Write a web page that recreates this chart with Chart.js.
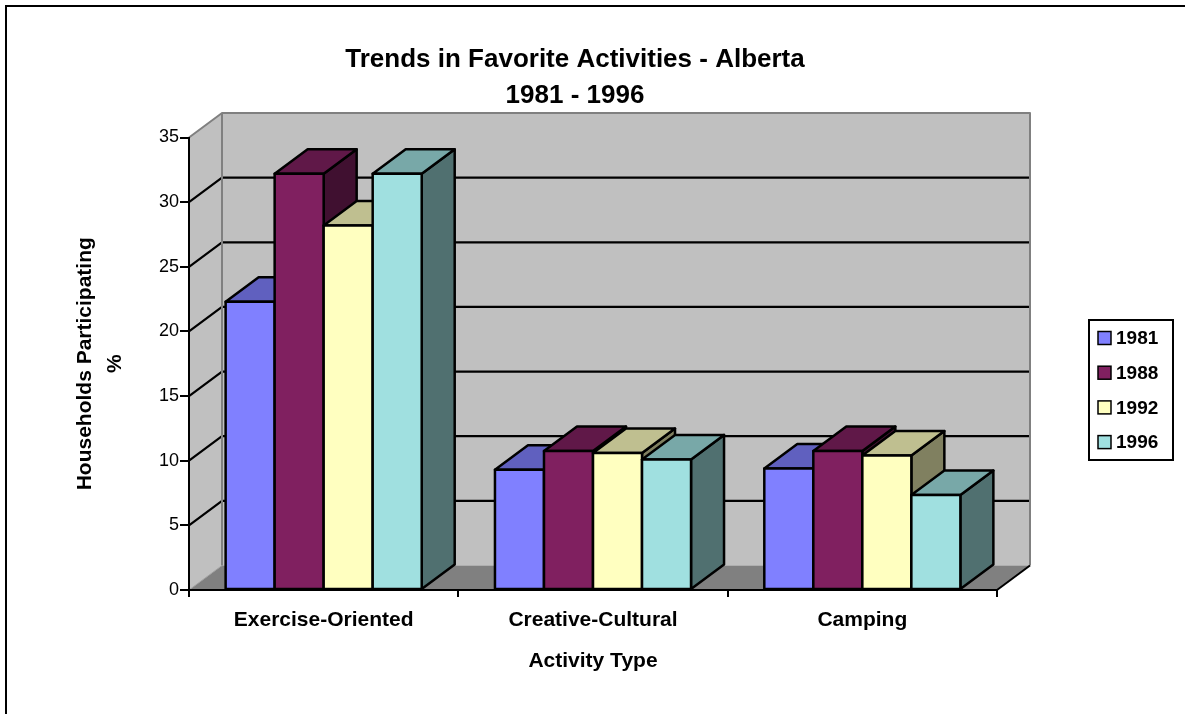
<!DOCTYPE html>
<html>
<head>
<meta charset="utf-8">
<title>Trends in Favorite Activities - Alberta</title>
<script src="https://cdn.jsdelivr.net/npm/chart.js@4.4.1/dist/chart.umd.min.js"></script>
<style>
  body { margin: 0; background: #fff; }
  canvas { display: block; }
</style>
</head>
<body>
<canvas id="myChart" width="1185" height="714"></canvas>
<script>
const titleLines = ['Trends in Favorite Activities - Alberta', '1981 - 1996'];
const categories = ['Exercise-Oriented', 'Creative-Cultural', 'Camping'];
const years = ['1981', '1988', '1992', '1996'];
const values1981 = [22.3, 9.3, 9.4];
const values1988 = [32.2, 10.75, 10.75];
const values1992 = [28.2, 10.6, 10.4];
const values1996 = [32.2, 10.1, 7.35];
const yMax = 35;
const yStep = 5;

const frontColors = ['#8080FF', '#802060', '#FFFFC0', '#A0E0E0'];

// depth of the 3d box (offset of the back plane)
const DX = 33, DY = -24.5;
const FONT = "'Liberation Sans', Arial, sans-serif";
Chart.defaults.font.family = FONT;

let shade = (hex, f) => {
  const n = parseInt(hex.slice(1), 16);
  const r = Math.round(((n >> 16) & 255) * f);
  const g = Math.round(((n >> 8) & 255) * f);
  const b = Math.round((n & 255) * f);
  return 'rgb(' + r + ',' + g + ',' + b + ')';
};

let poly = (ctx, pts, fill, stroke, lw) => {
  ctx.beginPath();
  ctx.moveTo(pts[0][0], pts[0][1]);
  for (let i = 1; i < pts.length; i++) ctx.lineTo(pts[i][0], pts[i][1]);
  ctx.closePath();
  if (fill) { ctx.fillStyle = fill; ctx.fill(); }
  if (stroke) { ctx.strokeStyle = stroke; ctx.lineWidth = lw; ctx.stroke(); }
};

let line = (ctx, pts, color, lw) => {
  ctx.beginPath();
  ctx.moveTo(pts[0][0], pts[0][1]);
  for (let i = 1; i < pts.length; i++) ctx.lineTo(pts[i][0], pts[i][1]);
  ctx.strokeStyle = color;
  ctx.lineWidth = lw;
  ctx.stroke();
};

const box3d = {
  id: 'box3d',
  afterLayout(chart) {
    // centre the title over the whole picture, not just left of the legend
    chart.titleBlock.left = 0;
    chart.titleBlock.right = 1150;
  },
  beforeDraw(chart) {
    const ctx = chart.ctx;
    const a = chart.chartArea;
    const y = chart.scales.y;
    ctx.save();
    ctx.lineJoin = 'round';
    // back wall
    poly(ctx, [[a.left + DX, a.top + DY], [a.right + DX, a.top + DY], [a.right + DX, a.bottom + DY], [a.left + DX, a.bottom + DY]], '#C0C0C0');
    // side wall
    poly(ctx, [[a.left, a.bottom], [a.left, a.top], [a.left + DX, a.top + DY], [a.left + DX, a.bottom + DY]], '#C0C0C0');
    // floor
    poly(ctx, [[a.left, a.bottom], [a.right, a.bottom], [a.right + DX, a.bottom + DY], [a.left + DX, a.bottom + DY]], '#808080');
    // grid lines, running over the side wall and across the back wall
    y.ticks.forEach(t => {
      if (t.value <= 0 || t.value >= yMax) return;
      const py = y.getPixelForValue(t.value);
      line(ctx, [[a.left, py], [a.left + DX, py + DY], [a.right + DX, py + DY]], '#000', 2.2);
    });
    // wall edges
    line(ctx, [[a.left, a.top], [a.left + DX, a.top + DY], [a.right + DX, a.top + DY], [a.right + DX, a.bottom + DY]], '#808080', 2);
    line(ctx, [[a.left + DX, a.top + DY], [a.left + DX, a.bottom + DY]], '#808080', 2);
    line(ctx, [[a.left, a.bottom], [a.left + DX, a.bottom + DY]], '#A0A0A0', 1);
    line(ctx, [[a.right, a.bottom], [a.right + DX, a.bottom + DY]], '#000', 2);
    ctx.restore();
  },
  afterDatasetsDraw(chart) {
    const ctx = chart.ctx;
    const metas = chart.getSortedVisibleDatasetMetas();
    ctx.save();
    ctx.lineJoin = 'round';
    for (let i = 0; i < categories.length; i++) {
      metas.forEach((meta, d) => {
        const bar = meta.data[i];
        const p = bar.getProps(['x', 'y', 'width', 'base'], true);
        const l = p.x - p.width / 2, r = p.x + p.width / 2;
        const c = frontColors[d];
        poly(ctx, [[r, p.y], [r + DX, p.y + DY], [r + DX, p.base + DY], [r, p.base]], shade(c, 0.5), '#000', 2.5);
        poly(ctx, [[l, p.y], [r, p.y], [r + DX, p.y + DY], [l + DX, p.y + DY]], shade(c, 0.75), '#000', 2.5);
        poly(ctx, [[l, p.y], [r, p.y], [r, p.base], [l, p.base]], c, '#000', 2.5);
      });
    }
    ctx.restore();
  },
  afterDraw(chart) {
    const ctx = chart.ctx;
    ctx.save();
    // legend
    ctx.lineWidth = 2;
    ctx.strokeStyle = '#000';
    ctx.strokeRect(1089, 320, 84, 140);
    ctx.font = 'bold 19px ' + FONT;
    ctx.textBaseline = 'middle';
    ctx.textAlign = 'left';
    chart.data.datasets.forEach((ds, i) => {
      const cy = 338 + i * 34.7;
      ctx.fillStyle = ds.backgroundColor;
      ctx.fillRect(1098, cy - 6.5, 13, 13);
      ctx.lineWidth = 1.5;
      ctx.strokeRect(1098, cy - 6.5, 13, 13);
      ctx.fillStyle = '#000';
      ctx.fillText(ds.label, 1116, cy + 1);
    });
    // outer frame
    ctx.lineWidth = 2;
    ctx.strokeRect(6, 6, 1400, 900);
    ctx.restore();
  }
};

const ctx = document.getElementById('myChart').getContext('2d');
const chart = new Chart(ctx, {
  type: 'bar',
  data: {
    labels: categories,
    datasets: [
      { label: years[0], data: values1981, backgroundColor: frontColors[0] },
      { label: years[1], data: values1988, backgroundColor: frontColors[1] },
      { label: years[2], data: values1992, backgroundColor: frontColors[2] },
      { label: years[3], data: values1996, backgroundColor: frontColors[3] }
    ]
  },
  options: {
    responsive: false,
    animation: false,
    events: [],
    datasets: { bar: { categoryPercentage: 0.728, barPercentage: 1, borderWidth: 0 } },
    layout: { padding: { top: 30, left: 60, right: 188, bottom: 36 } },
    plugins: {
      legend: { display: false },
      tooltip: { enabled: false },
      title: {
        display: true,
        text: titleLines,
        color: '#000',
        font: { size: 26, weight: 'bold', lineHeight: '36px' },
        padding: { top: 12, bottom: 23.5 }
      }
    },
    scales: {
      x: {
        grid: { offset: true, drawOnChartArea: false, drawTicks: true, tickLength: 7, color: '#000', lineWidth: 2 },
        border: { display: true, color: '#000', width: 2 },
        ticks: { color: '#000', font: { size: 21, weight: 'bold' }, padding: 11, maxRotation: 0, autoSkip: false },
        title: { display: true, text: 'Activity Type', color: '#000', font: { size: 21, weight: 'bold' }, padding: { top: 4, bottom: 4 } },
        afterFit(s) { s.height = 88; }
      },
      y: {
        min: 0,
        max: yMax,
        ticks: { stepSize: yStep, color: '#000', font: { size: 18 }, padding: 1 },
        grid: { drawOnChartArea: false, drawTicks: true, tickLength: 9, color: '#000', lineWidth: 2 },
        border: { display: true, color: '#000', width: 2 },
        title: {
          display: true,
          text: ['Households Participating', '%'],
          color: '#000',
          font: { size: 21, weight: 'bold', lineHeight: '30px' },
          padding: { top: 10, bottom: 0 }
        },
        afterFit(s) { s.width = 129; }
      }
    }
  },
  plugins: [box3d]
});
</script>
</body>
</html>
